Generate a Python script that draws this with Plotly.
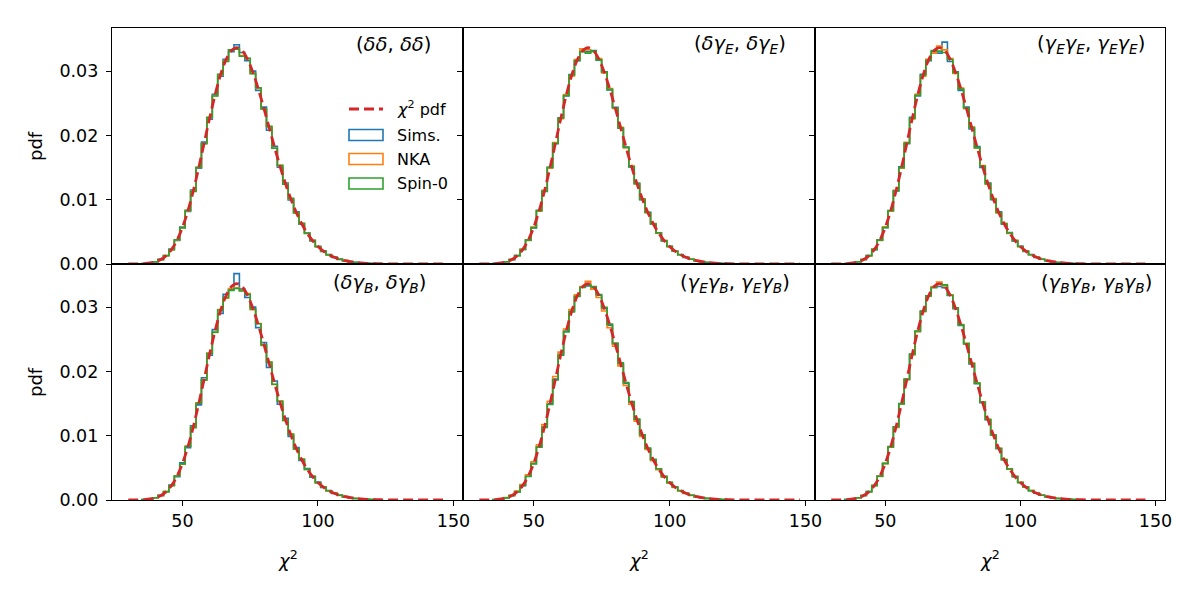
import plotly.graph_objects as go

# ---------------- data ----------------
bin_edges = [35, 37, 39, 41, 43, 45, 47, 49, 51, 53, 55, 57, 59, 61, 63, 65, 67, 69, 71, 73,
             75, 77, 79, 81, 83, 85, 87, 89, 91, 93, 95, 97, 99, 101, 103, 105, 107, 109, 111,
             113, 115, 117, 119, 121, 123]

chi2_x = [30, 32, 34, 36, 38, 40, 42, 44, 46, 48, 50, 52, 54, 56, 58, 60, 62, 64, 66, 68, 70,
          72, 74, 76, 78, 80, 82, 84, 86, 88, 90, 92, 94, 96, 98, 100, 102, 104, 106, 108, 110,
          112, 114, 116, 118, 120, 122, 124, 126, 128, 130, 132, 134, 136, 138, 140, 142, 144,
          146, 148]
chi2_pdf = [0.000002, 0.000008, 0.000023, 0.000063, 0.000155, 0.000343, 0.000695, 0.001303,
            0.002272, 0.003707, 0.005693, 0.008265, 0.011391, 0.014965, 0.018802, 0.022656,
            0.026262, 0.029351, 0.031700, 0.033153, 0.033640, 0.033172, 0.031838, 0.029786,
            0.027200, 0.024271, 0.021190, 0.018120, 0.015189, 0.012493, 0.010092, 0.008013,
            0.006257, 0.004809, 0.003640, 0.002716, 0.001999, 0.001451, 0.001040, 0.000736,
            0.000514, 0.000355, 0.000243, 0.000164, 0.000110, 0.000073, 0.000048, 0.000031,
            0.000020, 0.000013, 0.000008, 0.000005, 0.000003, 0.000002, 0.000001, 0.0, 0.0,
            0.0, 0.0, 0.0]

panel_titles = ["(<i>δδ</i>, <i>δδ</i>)",
                "(<i>δγ<sub>E</sub></i>, <i>δγ<sub>E</sub></i>)",
                "(<i>γ<sub>E</sub>γ<sub>E</sub></i>, <i>γ<sub>E</sub>γ<sub>E</sub></i>)",
                "(<i>δγ<sub>B</sub></i>, <i>δγ<sub>B</sub></i>)",
                "(<i>γ<sub>E</sub>γ<sub>B</sub></i>, <i>γ<sub>E</sub>γ<sub>B</sub></i>)",
                "(<i>γ<sub>B</sub>γ<sub>B</sub></i>, <i>γ<sub>B</sub>γ<sub>B</sub></i>)"]

series_names = ["Sims.", "NKA", "Spin-0"]

p1_sims = [.00005,.00016,.00033,.00072,.00128,.00232,.00365,.00575,.00818,.01150,.01488,.01895,.02250,.02640,.02920,.03185,.03300,.03410,.03290,.03160,.03000,.02700,.02440,.02080,.01830,.01505,.01260,.00995,.00810,.00620,.00487,.00358,.00276,.00196,.00148,.00101,.00076,.00050,.00037,.00023,.00017,.00010,.00008,.00004]
p1_nka = [.00006,.00015,.00034,.00069,.00131,.00224,.00373,.00565,.00830,.01132,.01500,.01875,.02275,.02618,.02945,.03155,.03325,.03345,.03240,.03195,.02965,.02735,.02415,.02135,.01805,.01530,.01245,.01015,.00795,.00630,.00478,.00367,.00270,.00202,.00144,.00105,.00073,.00052,.00036,.00024,.00016,.00011,.00007,.00005]
p1_spin0 = [.00007,.00014,.00035,.00068,.00133,.00222,.00376,.00562,.00835,.01128,.01505,.01870,.02280,.02612,.02950,.03150,.03330,.03340,.03230,.03200,.02960,.02740,.02410,.02140,.01800,.01535,.01240,.01020,.00792,.00632,.00475,.00370,.00268,.00204,.00142,.00107,.00072,.00053,.00035,.00025,.00015,.00011,.00006,.00005]

p2_sims = [.00006,.00014,.00036,.00068,.00132,.00225,.00375,.00560,.00835,.01130,.01505,.01872,.02275,.02615,.02945,.03160,.03305,.03300,.03320,.03170,.02990,.02705,.02435,.02110,.01820,.01510,.01255,.01000,.00805,.00622,.00485,.00360,.00275,.00198,.00146,.00103,.00075,.00050,.00037,.00023,.00016,.00011,.00007,.00004]
p2_nka = [.00005,.00016,.00033,.00071,.00128,.00230,.00368,.00573,.00822,.01145,.01490,.01888,.02258,.02635,.02925,.03180,.03345,.03330,.03300,.03195,.02970,.02730,.02420,.02125,.01805,.01525,.01245,.01015,.00798,.00628,.00478,.00368,.00270,.00201,.00144,.00105,.00073,.00052,.00035,.00025,.00016,.00010,.00007,.00005]
p2_spin0 = [.00007,.00015,.00034,.00070,.00131,.00226,.00372,.00566,.00828,.01136,.01500,.01878,.02270,.02620,.02940,.03165,.03300,.03280,.03310,.03175,.02985,.02715,.02430,.02115,.01815,.01515,.01250,.01005,.00802,.00625,.00482,.00362,.00273,.00199,.00145,.00104,.00074,.00051,.00036,.00024,.00016,.00011,.00007,.00005]

p3_sims = [.00005,.00015,.00035,.00069,.00133,.00224,.00376,.00563,.00832,.01135,.01510,.01870,.02280,.02615,.02950,.03160,.03300,.03280,.03450,.03150,.02990,.02700,.02440,.02100,.01825,.01500,.01260,.01000,.00810,.00618,.00488,.00358,.00276,.00196,.00147,.00102,.00075,.00050,.00037,.00023,.00016,.00011,.00007,.00004]
p3_nka = [.00006,.00016,.00033,.00071,.00127,.00231,.00366,.00578,.00820,.01148,.01488,.01892,.02255,.02640,.02920,.03185,.03280,.03390,.03330,.03195,.02965,.02735,.02415,.02130,.01800,.01530,.01242,.01018,.00795,.00632,.00476,.00369,.00268,.00203,.00143,.00106,.00073,.00052,.00035,.00025,.00016,.00010,.00007,.00005]
p3_spin0 = [.00007,.00014,.00034,.00070,.00130,.00227,.00372,.00567,.00828,.01138,.01498,.01882,.02268,.02625,.02938,.03168,.03320,.03310,.03290,.03180,.02980,.02720,.02425,.02120,.01810,.01520,.01250,.01008,.00802,.00626,.00481,.00364,.00272,.00200,.00145,.00104,.00074,.00051,.00036,.00024,.00016,.00011,.00007,.00005]

p4_sims = [.00006,.00015,.00034,.00072,.00128,.00232,.00362,.00578,.00815,.01155,.01480,.01900,.02250,.02650,.02900,.03200,.03280,.03520,.03280,.03150,.03000,.02680,.02450,.02060,.01850,.01490,.01270,.00990,.00815,.00615,.00490,.00355,.00278,.00195,.00148,.00100,.00077,.00049,.00038,.00023,.00017,.00010,.00008,.00004]
p4_nka = [.00005,.00016,.00033,.00068,.00133,.00222,.00378,.00558,.00838,.01125,.01512,.01862,.02285,.02605,.02960,.03140,.03290,.03300,.03260,.03210,.02960,.02745,.02405,.02145,.01795,.01540,.01235,.01025,.00790,.00635,.00474,.00370,.00267,.00205,.00142,.00107,.00072,.00053,.00035,.00025,.00015,.00011,.00006,.00005]
p4_spin0 = [.00007,.00014,.00035,.00069,.00131,.00225,.00374,.00562,.00832,.01130,.01505,.01868,.02278,.02610,.02955,.03150,.03260,.03290,.03250,.03200,.02970,.02740,.02410,.02140,.01800,.01535,.01240,.01020,.00795,.00632,.00476,.00368,.00269,.00203,.00143,.00106,.00073,.00052,.00036,.00024,.00016,.00011,.00007,.00005]

p5_sims = [.00006,.00015,.00034,.00070,.00130,.00228,.00370,.00570,.00826,.01140,.01495,.01882,.02265,.02628,.02935,.03172,.03310,.03330,.03300,.03185,.02980,.02718,.02428,.02118,.01812,.01518,.01250,.01008,.00800,.00627,.00480,.00365,.00271,.00201,.00145,.00104,.00074,.00051,.00036,.00024,.00016,.00011,.00007,.00005]
p5_nka = [.00007,.00017,.00037,.00075,.00138,.00240,.00390,.00595,.00860,.01175,.01535,.01920,.02300,.02660,.02960,.03190,.03320,.03400,.03280,.03150,.02940,.02680,.02390,.02085,.01780,.01490,.01225,.00990,.00785,.00612,.00470,.00355,.00265,.00195,.00141,.00101,.00072,.00050,.00035,.00023,.00015,.00010,.00007,.00004]
p5_spin0 = [.00005,.00014,.00033,.00068,.00127,.00224,.00366,.00562,.00820,.01128,.01485,.01868,.02252,.02615,.02925,.03165,.03305,.03345,.03320,.03195,.02995,.02735,.02442,.02132,.01825,.01530,.01258,.01015,.00806,.00632,.00485,.00368,.00274,.00203,.00147,.00105,.00075,.00052,.00037,.00025,.00016,.00011,.00008,.00005]

p6_sims = [.00006,.00015,.00035,.00071,.00131,.00226,.00372,.00568,.00830,.01136,.01500,.01876,.02270,.02622,.02940,.03175,.03310,.03320,.03300,.03180,.02975,.02715,.02425,.02115,.01810,.01515,.01248,.01006,.00800,.00625,.00480,.00363,.00271,.00200,.00145,.00104,.00074,.00051,.00036,.00024,.00016,.00011,.00007,.00005]
p6_nka = [.00005,.00014,.00033,.00069,.00128,.00224,.00368,.00565,.00822,.01130,.01492,.01870,.02260,.02618,.02930,.03170,.03320,.03390,.03330,.03190,.02985,.02730,.02435,.02128,.01820,.01525,.01255,.01012,.00804,.00630,.00484,.00366,.00274,.00202,.00147,.00105,.00075,.00052,.00037,.00025,.00016,.00011,.00007,.00005]
p6_spin0 = [.00006,.00015,.00034,.00070,.00130,.00226,.00370,.00570,.00826,.01140,.01495,.01882,.02265,.02628,.02935,.03175,.03300,.03360,.03345,.03185,.02990,.02725,.02432,.02122,.01818,.01522,.01252,.01010,.00802,.00628,.00482,.00365,.00272,.00201,.00146,.00104,.00074,.00051,.00036,.00024,.00016,.00011,.00007,.00005]

panels = [[p1_sims, p1_nka, p1_spin0], [p2_sims, p2_nka, p2_spin0], [p3_sims, p3_nka, p3_spin0],
          [p4_sims, p4_nka, p4_spin0], [p5_sims, p5_nka, p5_spin0], [p6_sims, p6_nka, p6_spin0]]

y_ticks = [0.0, 0.01, 0.02, 0.03]
x_ticks = [50, 100, 150]

# ---------------- styling ----------------
W, H = 1200, 600
FONT = "DejaVu Sans"
COLORS = ["#1f77b4", "#ff7f0e", "#2ca02c"]
RED = "#d62728"
col_px = [(112, 463), (463, 815), (815, 1165)]
row_px = [(28, 264), (264, 500)]
title_pos = [(393, 45), (740, 45), (1091, 45), (379, 283), (735, 283), (1096, 283)]


def px(x):
    return x / W


def py(y):
    return 1 - y / H


def step_xy(edges, vals):
    x = [edges[0]] + list(edges[:-1]) + [edges[-1]]
    y = [0] + list(vals) + [0]
    return x, y


fig = go.Figure()
annotations = []
shapes = []

for i in range(6):
    r, c = divmod(i, 3)
    ax = "" if i == 0 else str(i + 1)
    xa, ya = "x" + ax, "y" + ax
    for s, vals in enumerate(panels[i]):
        sx, sy = step_xy(bin_edges, vals)
        fig.add_trace(go.Scatter(x=sx, y=sy, mode="lines", line=dict(color=COLORS[s], width=1.6, shape="hv"),
                                 name=series_names[s], showlegend=False, xaxis=xa, yaxis=ya,
                                 hoverinfo="skip"))
    fig.add_trace(go.Scatter(x=chi2_x, y=chi2_pdf, mode="lines",
                             line=dict(color=RED, width=2.8, dash="10px,5px", shape="spline"),
                             name="χ² pdf", showlegend=False, xaxis=xa, yaxis=ya, hoverinfo="skip"))

    xd = [px(col_px[c][0]), px(col_px[c][1])]
    yd = [py(row_px[r][1]), py(row_px[r][0])]
    fig.layout["xaxis" + ax] = dict(domain=xd, range=[24, 153.5], anchor=ya, tickvals=x_ticks,
                                    showticklabels=(r == 1), ticks="outside" if r == 1 else "",
                                    showline=True, linecolor="black", linewidth=1.3, mirror=True,
                                    showgrid=False, zeroline=False, ticklen=5, tickwidth=1.2,
                                    tickcolor="black", automargin=False,
                                    tickfont=dict(family=FONT, size=17.5, color="black"))
    fig.layout["yaxis" + ax] = dict(domain=yd, range=[0, 0.0367], anchor=xa, tickvals=y_ticks,
                                    tickformat=".2f", showticklabels=(c == 0), ticks="outside",
                                    showline=True, linecolor="black", linewidth=1.3, mirror=True,
                                    showgrid=False, zeroline=False, ticklen=5, tickwidth=1.2,
                                    tickcolor="black", ticklabelstandoff=4, automargin=False,
                                    tickfont=dict(family=FONT, size=17.5, color="black"))

    tx, ty = title_pos[i]
    annotations.append(dict(x=px(tx), y=py(ty), xref="paper", yref="paper", text=panel_titles[i],
                            showarrow=False, xanchor="center", yanchor="middle",
                            font=dict(family=FONT, size=19.5, color="black")))

# axis labels
for c in range(3):
    annotations.append(dict(x=px((col_px[c][0] + col_px[c][1]) / 2), y=py(559), xref="paper", yref="paper",
                            text="<i>χ</i><sup>2</sup>", showarrow=False, xanchor="center", yanchor="middle",
                            font=dict(family=FONT, size=18, color="black")))
for r in range(2):
    annotations.append(dict(x=px(35), y=py((row_px[r][0] + row_px[r][1]) / 2), xref="paper", yref="paper",
                            text="pdf", showarrow=False, textangle=-90, xanchor="center", yanchor="middle",
                            font=dict(family=FONT, size=18, color="black")))

# legend (top-left panel)
leg_rows = [("<i>χ</i><sup>2</sup> pdf", 109), ("Sims.", 135), ("NKA", 159), ("Spin-0", 183.5)]
shapes.append(dict(type="line", xref="paper", yref="paper", x0=px(349), x1=px(383), y0=py(109), y1=py(109),
                   line=dict(color=RED, width=2.8, dash="10px,5px")))
for s in range(3):
    yc = leg_rows[s + 1][1]
    shapes.append(dict(type="rect", xref="paper", yref="paper", x0=px(349), x1=px(383),
                       y0=py(yc + 5.5), y1=py(yc - 5.5), line=dict(color=COLORS[s], width=1.6),
                       fillcolor="rgba(0,0,0,0)"))
for text, yc in leg_rows:
    annotations.append(dict(x=px(395), y=py(yc), xref="paper", yref="paper", text=text, showarrow=False,
                            xanchor="left", yanchor="middle", font=dict(family=FONT, size=16, color="black")))

fig.update_layout(width=W, height=H, margin=dict(l=0, r=0, t=0, b=0, autoexpand=False), plot_bgcolor="white",
                  paper_bgcolor="white", annotations=annotations, shapes=shapes, showlegend=False,
                  font=dict(family=FONT, color="black"))

fig.write_html("out.html")
